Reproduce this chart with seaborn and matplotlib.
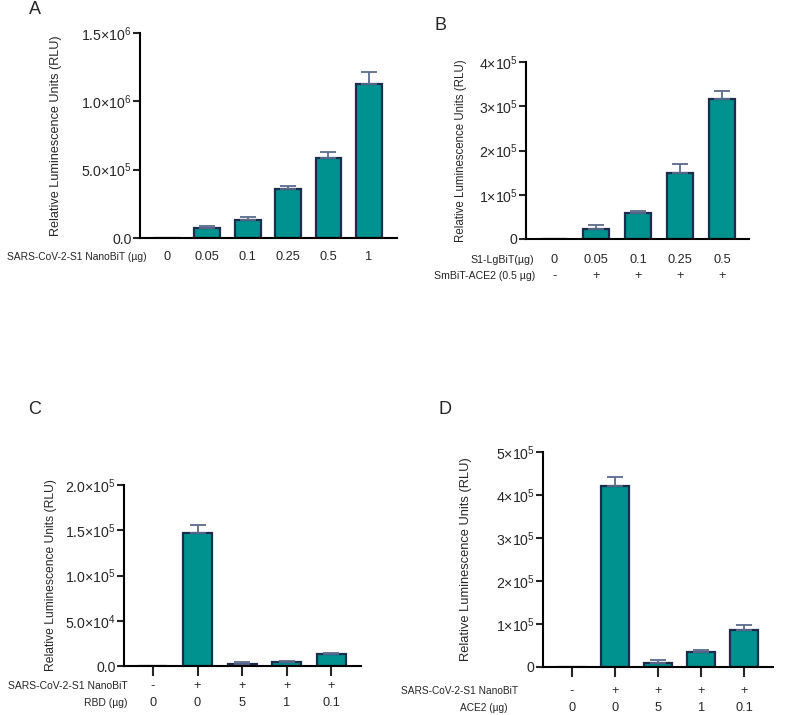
import numpy as np
import pandas as pd
import matplotlib
matplotlib.use('Agg')
import matplotlib.pyplot as plt
import matplotlib.transforms as mtrans
import seaborn as sns

# panel A
a_doses = ['0', '0.05', '0.1', '0.25', '0.5', '1']
a_mean = [0, 73000, 135000, 355000, 587000, 1128000]
a_err = [0, 13000, 19000, 24000, 39000, 86000]
a_ticks = [0, 500000, 1000000, 1500000]
a_ticklabels = ['0.0', r'5.0$\times$10$^{5}$', r'1.0$\times$10$^{6}$', r'1.5$\times$10$^{6}$']

# panel B
b_doses = ['0', '0.05', '0.1', '0.25', '0.5']
b_ace2 = ['-', '+', '+', '+', '+']
b_mean = [0, 22600, 58000, 150000, 316000]
b_err = [0, 9000, 5000, 19500, 18000]
b_ticks = [0, 100000, 200000, 300000, 400000]
b_ticklabels = ['0', r'1$\times$10$^{5}$', r'2$\times$10$^{5}$', r'3$\times$10$^{5}$', r'4$\times$10$^{5}$']

# panel C
c_s1 = ['-', '+', '+', '+', '+']
c_rbd = ['0', '0', '5', '1', '0.1']
c_mean = [500, 147000, 2600, 4800, 13300]
c_err = [0, 9000, 1800, 1100, 700]
c_ticks = [0, 50000, 100000, 150000, 200000]
c_ticklabels = ['0.0', r'5.0$\times$10$^{4}$', r'1.0$\times$10$^{5}$', r'1.5$\times$10$^{5}$', r'2.0$\times$10$^{5}$']

# panel D
d_s1 = ['-', '+', '+', '+', '+']
d_ace2 = ['0', '0', '5', '1', '0.1']
d_mean = [0, 422000, 10000, 35000, 87000]
d_err = [0, 21000, 7000, 5000, 11000]
d_ticks = [0, 100000, 200000, 300000, 400000, 500000]
d_ticklabels = ['0', r'1$\times$10$^{5}$', r'2$\times$10$^{5}$', r'3$\times$10$^{5}$', r'4$\times$10$^{5}$', r'5$\times$10$^{5}$']

sns.set_style('ticks')
plt.rcParams['font.family'] = ['Liberation Sans', 'DejaVu Sans']
plt.rcParams['mathtext.fontset'] = 'custom'
plt.rcParams['mathtext.rm'] = 'Liberation Sans'
plt.rcParams['mathtext.it'] = 'Liberation Sans'

W, H = 787, 715
fig = plt.figure(figsize=(W / 100, H / 100), dpi=100)

BAR = '#00928F'
EDGE = '#1C2C4C'
ERR = '#5B6B8E'


def px_axes(x0, x1, ytop, ybot):
    return fig.add_axes([x0 / W, 1 - ybot / H, (x1 - x0) / W, (ybot - ytop) / H])


def draw(ax, mean, err, ticks, ticklabels, width, xlim, xticks_on, yl_size, yl_x, box):
    df = pd.DataFrame({'pos': [str(i) for i in range(len(mean))], 'val': mean})
    sns.barplot(data=df, x='pos', y='val', ax=ax, color=BAR, width=width,
                edgecolor=EDGE, linewidth=1.6, saturation=1, errorbar=None)
    ax.errorbar(range(len(mean)), mean, yerr=[np.zeros(len(err)), err], fmt='none',
                ecolor=ERR, elinewidth=1.3, capsize=6, capthick=1.3, zorder=1)
    ax.set_xlim(*xlim)
    ax.set_ylim(ticks[0], ticks[-1])
    ax.set_yticks(ticks)
    ax.set_yticklabels(ticklabels, fontsize=10.2)
    ax.set_xlabel('')
    ax.set_ylabel('Relative Luminescence Units (RLU)', fontsize=yl_size)
    ax.yaxis.set_label_coords((yl_x - box[0]) / (box[1] - box[0]), 0.5)
    ax.set_xticklabels([])
    for s in ['top', 'right']:
        ax.spines[s].set_visible(False)
    for s in ['left', 'bottom']:
        ax.spines[s].set_linewidth(1.5)
        ax.spines[s].set_color('black')
    ax.tick_params(axis='y', length=5, width=1.5, pad=1)
    if xticks_on:
        ax.tick_params(axis='x', length=7, width=1.5)
    else:
        ax.tick_params(axis='x', length=0)


def row(ax, labels, name, y, name_x, name_size):
    tr = mtrans.blended_transform_factory(ax.transData, fig.transFigure)
    for i, lab in enumerate(labels):
        ax.text(i, 1 - y / H, lab, transform=tr, ha='center', va='center', fontsize=9.2)
    fig.text(name_x / W, 1 - y / H, name, ha='right', va='center', fontsize=name_size)


boxA = (140, 397, 33, 238)
axA = px_axes(*boxA)
draw(axA, a_mean, a_err, a_ticks, a_ticklabels, 0.64, (-0.67, 5.7), False, 9.1, 62, boxA)
row(axA, a_doses, 'SARS-CoV-2-S1 NanoBiT (µg)', 257, 147, 7.4)

boxB = (526, 749, 62, 239)
axB = px_axes(*boxB)
draw(axB, b_mean, b_err, b_ticks, b_ticklabels, 0.62, (-0.67, 4.64), False, 8.3, 467, boxB)
row(axB, b_doses, 'S1-LgBiT(µg)', 260, 534, 7.7)
row(axB, b_ace2, 'SmBiT-ACE2 (0.5 µg)', 276, 535, 7.6)

boxC = (124, 361, 485, 666)
axC = px_axes(*boxC)
draw(axC, c_mean, c_err, c_ticks, c_ticklabels, 0.65, (-0.65, 4.67), True, 8.7, 57, boxC)
row(axC, c_s1, 'SARS-CoV-2-S1 NanoBiT', 686, 128, 7.5)
row(axC, c_rbd, 'RBD (µg)', 703, 127, 7.5)

boxD = (543, 773, 452, 667)
axD = px_axes(*boxD)
draw(axD, d_mean, d_err, d_ticks, d_ticklabels, 0.65, (-0.67, 4.67), True, 9.3, 472, boxD)
row(axD, d_s1, 'SARS-CoV-2-S1 NanoBiT', 691, 518, 7.3)
row(axD, d_ace2, 'ACE2 (µg)', 708, 508, 7.3)

for lab, x, y in [('A', 35, 9), ('B', 440, 26), ('C', 35, 409), ('D', 445, 409)]:
    fig.text(x / W, 1 - y / H, lab, fontsize=13, ha='center', va='center')

fig.savefig('out.png', dpi=100)
